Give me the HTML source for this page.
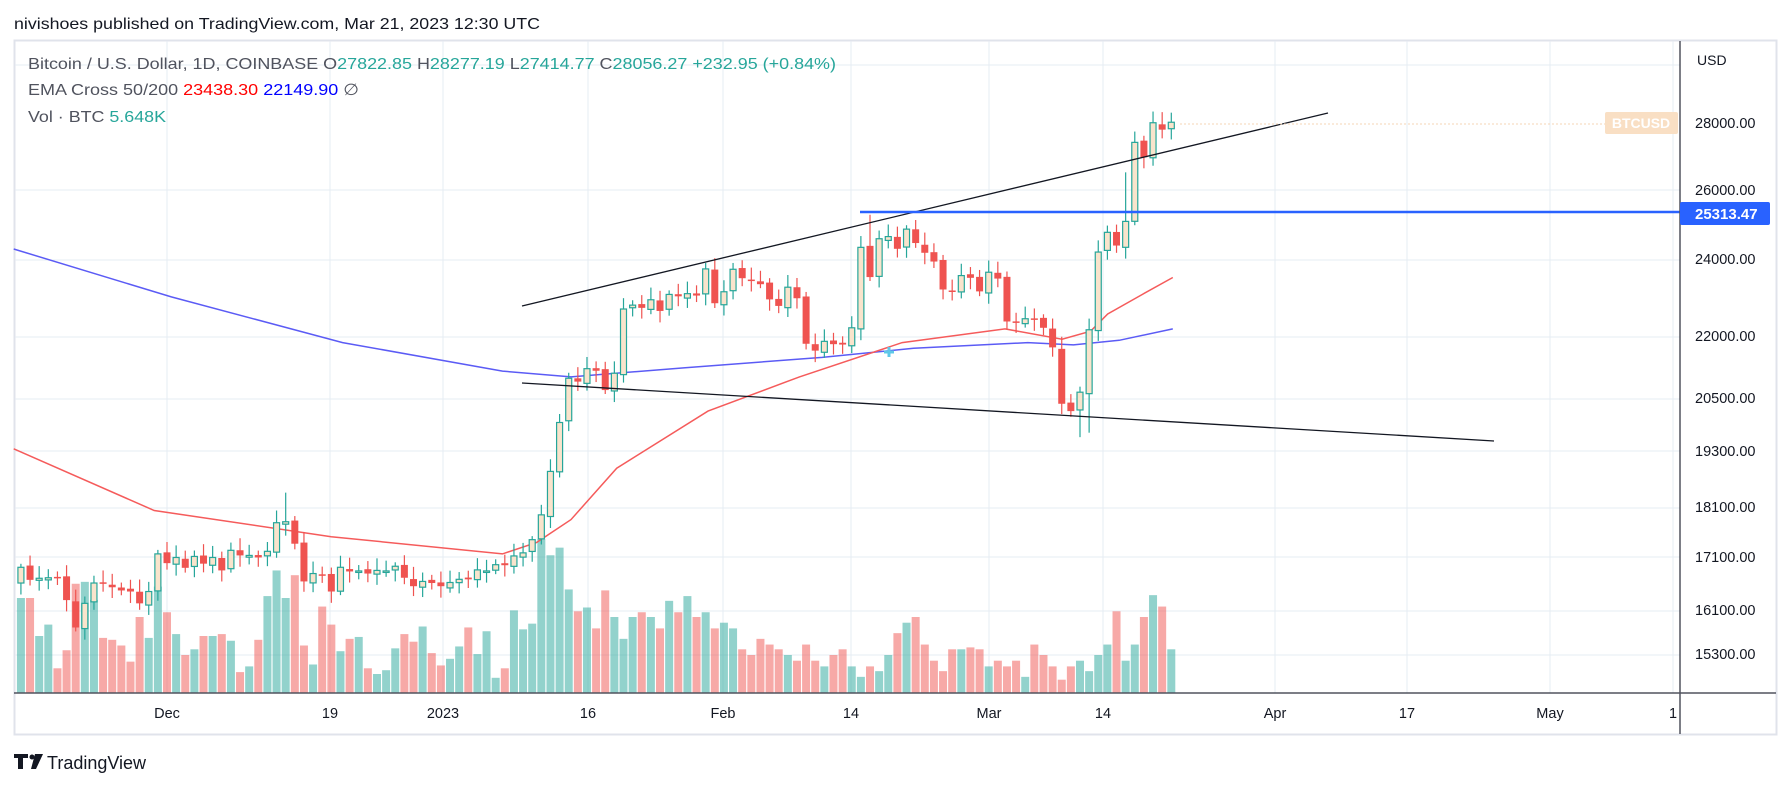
<!DOCTYPE html>
<html><head><meta charset="utf-8">
<style>
html,body{margin:0;padding:0;background:#fff;width:1791px;height:790px;overflow:hidden}
svg{display:block}
text{font-family:"Liberation Sans",sans-serif}
</style></head>
<body>
<svg id="s" width="1791" height="790" xmlns="http://www.w3.org/2000/svg"></svg>
<script>
const S=document.getElementById('s');let h='';
const Y=p=>124+878*Math.log(28000/p);
const X=d=>167+9.13*d;
// frame
h+='<rect x="14.5" y="40.5" width="1762" height="694" fill="#fff" stroke="#e0e3eb" stroke-width="2"/>';
// grid
[65,190,260,337,399,451,508,557,611,655].forEach(y=>h+=`<line x1="15" x2="1680" y1="${y}" y2="${y}" stroke="#e6ecf3" stroke-width="1"/>`);
const vx=[167,330,443,588,723,851,989,1103,1275,1407,1550,1673];
vx.forEach(x=>h+=`<line x1="${x}" x2="${x}" y1="41" y2="693" stroke="#e6ecf3" stroke-width="1"/>`);
// data
const C=[16900,16660,16690,16700,16700,16280,15780,16220,16600,16600,16520,16460,16440,16220,16440,17160,
16980,17090,16890,17110,16970,17090,16840,17230,17130,17130,17090,17210,17780,17800,17360,16630,16780,16740,16440,16900,16820,16830,16780,16840,16830,16920,16700,16540,16630,16600,16540,
16610,16670,16670,16850,16830,16950,16940,17120,17180,17440,17940,18850,19930,20960,20880,21190,21140,20680,21080,22680,22780,22710,22920,22630,23060,23010,23080,23030,23740,22830,23130,
23730,23490,23430,23330,22930,22760,23250,22960,21800,21630,21860,21790,21780,22200,24330,23520,24570,24630,24290,24840,24450,24180,23940,23190,23160,23560,23500,23140,
23650,23480,22360,22350,22430,22410,22200,21710,20360,20190,20630,22150,24200,24750,24380,25060,27420,26960,28040,27820,28056];
const V=[100,100,60,72,26,45,115,117,98,58,56,50,33,80,58,112,85,62,40,46,60,60,62,55,22,28,56,102,129,100,124,50,30,91,72,44,57,59,26,20,24,47,62,54,70,42,29,36,49,69,41,65,16,26,87,67,73,162,145,153,109,86,
90,68,108,80,57,80,85,80,68,97,85,102,80,85,68,74,68,46,40,57,51,46,40,34,51,34,28,40,46,28,17,28,23,40,63,74,80,51,34,23,46,46,48,46,28,34,28,34,17,51,40,28,14,28,34,23,40,51,86,34,51,80,103,91,46,108,51,46,63,17];
const sp={29:[18400,null],116:[null,19600],93:[25250,null],98:[25100,null],121:[26500,null],124:[28400,null],117:[null,19700]};
let vol='',cand='';
for(let i=0;i<C.length;i++){
 const d=i-16,x=X(d),c=C[i],o=i?C[i-1]*(1+0.002*Math.sin(i*1.7)):16600;
 const up=c>=o,f=Math.abs(Math.sin(i*2.3));
 let hi=Math.max(o,c)*(1+0.004+0.01*f),lo=Math.min(o,c)*(1-0.004-0.009*Math.abs(Math.cos(i*1.3)));
 if(sp[i]){if(sp[i][0])hi=sp[i][0];if(sp[i][1])lo=sp[i][1];}
 const col=up?'#26a69a':'#ef5350';
 const vh=(V[i]||40)*0.95;
 vol+=`<rect x="${x-4}" y="${693-vh}" width="8" height="${vh}" fill="${up?'rgba(38,166,154,0.5)':'rgba(239,83,80,0.5)'}"/>`;
 const yt=Y(Math.max(o,c)),yb=Math.max(Y(Math.min(o,c)),yt+1.5);
 cand+=`<line x1="${x}" x2="${x}" y1="${Y(hi)}" y2="${Y(lo)}" stroke="${col}" stroke-width="1.2"/>`;
 if(up)cand+=`<rect x="${x-3}" y="${yt}" width="6" height="${yb-yt}" fill="#f9e4cc" stroke="#26a69a" stroke-width="1.2"/>`;
 else cand+=`<rect x="${x-3.5}" y="${yt}" width="7" height="${yb-yt}" fill="#ef5350"/>`;
}
h+=vol;
const sc=a=>a.map(p=>(p[0]*1.142).toFixed(1)+','+(p[1]*1.142).toFixed(1)).join(' ');
h+=`<polyline fill="none" stroke="#5b5bf5" stroke-width="1.5" points="${sc([[12,218],[150,260],[300,300],[440,325],[500,330],[600,322],[720,313],[800,305],[900,300],[940,302],[980,298],[1027,288]])}"/>`;
h+=`<polyline fill="none" stroke="#f55b5b" stroke-width="1.5" points="${sc([[12,393],[135,447],[290,470],[440,485],[470,475],[500,455],[540,410],[620,360],[700,330],[790,300],[880,288],[930,297],[955,290],[970,275],[1000,258],[1027,243]])}"/>`;
h+=cand;
h+='<line x1="522" y1="306" x2="1328" y2="113" stroke="#131722" stroke-width="1.3"/>';
h+='<line x1="522" y1="383" x2="1494" y2="441" stroke="#131722" stroke-width="1.3"/>';
h+='<line x1="860" y1="212" x2="1680" y2="212" stroke="#2962ff" stroke-width="2.5"/>';
h+='<line x1="1180" y1="124" x2="1605" y2="124" stroke="#f5d5b5" stroke-width="1" stroke-dasharray="2,2"/>';
h+='<path d="M884 352h10M889 347v10" stroke="#5ec8e8" stroke-width="3"/>';
// axes
h+='<line x1="1680" y1="41" x2="1680" y2="734" stroke="#50535e" stroke-width="1.5"/>';
h+='<line x1="14" y1="693" x2="1776" y2="693" stroke="#50535e" stroke-width="1.5"/>';
h+='<text x="1697" y="65" font-size="14" fill="#131722">USD</text>';
[[28000,128],[26000,195],[24000,264],[22000,341],[20500,403],[19300,456],[18100,512],[17100,562],[16100,615],[15300,659]].forEach(a=>h+=`<text x="1695" y="${a[1]}" font-size="14.5" fill="#131722">${a[0]}.00</text>`);
h+='<rect x="1605" y="112" width="73" height="22" rx="2" fill="#f9dfc4"/><text x="1641" y="128" font-size="14" font-weight="bold" fill="#fff" text-anchor="middle">BTCUSD</text>';
h+='<rect x="1680" y="202" width="90" height="23" rx="2" fill="#2962ff"/><text x="1695" y="219" font-size="15" font-weight="bold" fill="#fff">25313.47</text>';
[['Dec',167],['19',330],['2023',443],['16',588],['Feb',723],['14',851],['Mar',989],['14',1103],['Apr',1275],['17',1407],['May',1550],['1',1673]].forEach(a=>h+=`<text x="${a[1]}" y="718" font-size="14.5" fill="#131722" text-anchor="middle">${a[0]}</text>`);
// legend
h+='<text x="14" y="29" font-size="16" fill="#131722" textLength="526" lengthAdjust="spacingAndGlyphs">nivishoes published on TradingView.com, Mar 21, 2023 12:30 UTC</text>';
h+='<text x="28" y="69" font-size="16" fill="#50535e" textLength="808" lengthAdjust="spacingAndGlyphs">Bitcoin / U.S. Dollar, 1D, COINBASE  O<tspan fill="#26a69a">27822.85</tspan>  H<tspan fill="#26a69a">28277.19</tspan>  L<tspan fill="#26a69a">27414.77</tspan>  C<tspan fill="#26a69a">28056.27  +232.95 (+0.84%)</tspan></text>';
h+='<text x="28" y="95" font-size="16" fill="#50535e" textLength="331" lengthAdjust="spacingAndGlyphs">EMA Cross 50/200  <tspan fill="#ff0000">23438.30</tspan>  <tspan fill="#0000ff">22149.90</tspan>  ∅</text>';
h+='<text x="28" y="122" font-size="16" fill="#50535e" textLength="138" lengthAdjust="spacingAndGlyphs">Vol · BTC  <tspan fill="#26a69a">5.648K</tspan></text>';
// logo
h+='<path d="M14 754h14v4h-5v11h-5v-11h-4z" fill="#131722"/><circle cx="32" cy="757" r="2.5" fill="#131722"/><path d="M35 754h8l-7 15h-5z" fill="#131722"/>';
h+='<text x="47" y="769" font-size="18" fill="#131722">TradingView</text>';
S.innerHTML=h;
</script>
</body></html>
